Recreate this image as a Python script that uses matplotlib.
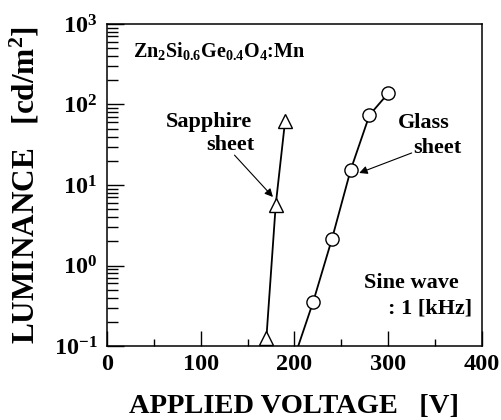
import numpy as np
import matplotlib
matplotlib.use("Agg")
import matplotlib.pyplot as plt
import matplotlib.ticker as ticker

plt.rcParams['font.family'] = ['Liberation Serif', 'DejaVu Serif']
plt.rcParams['font.weight'] = 'bold'
plt.rcParams['mathtext.fontset'] = 'custom'
plt.rcParams['mathtext.rm'] = 'Liberation Serif:bold'
plt.rcParams['mathtext.it'] = 'Liberation Serif:bold'
plt.rcParams['mathtext.bf'] = 'Liberation Serif:bold'
plt.rcParams['mathtext.default'] = 'rm'

# sapphire sheet (triangles)
sapphire_v = [170, 180, 190]
sapphire_lum = [0.125, 5.7, 63]

# glass sheet (circles); first entry is where the line leaves the axis
glass_v = [204, 220, 240, 260, 280, 300]
glass_lum = [0.1, 0.356, 2.15, 15.5, 74, 138]

xticks = [0, 100, 200, 300, 400]

W, H, DPI = 502, 420, 100
fig = plt.figure(figsize=(W / DPI, H / DPI), dpi=DPI)
ax = fig.add_axes([107 / W, 1 - 346 / H, 375 / W, 322 / H])

ax.plot(sapphire_v, sapphire_lum, color='k', lw=1.3, marker='^', ms=10.5,
        mfc='w', mec='k', mew=1.0, clip_on=False, zorder=3)
ax.plot(glass_v, glass_lum, color='k', lw=1.3, zorder=2)
ax.plot(glass_v[1:], glass_lum[1:], ls='none', marker='o', ms=9.5,
        mfc='w', mec='k', mew=1.0, clip_on=False, zorder=3)

ax.set_yscale('log')
ax.set_xlim(0, 400)
ax.set_ylim(0.1, 1000)
ax.set_xticks(xticks)
ax.xaxis.set_minor_locator(ticker.MultipleLocator(50))
ax.yaxis.set_major_locator(ticker.LogLocator(base=10, numticks=10))
ax.yaxis.set_minor_locator(ticker.LogLocator(base=10, subs=np.arange(2, 10), numticks=10))
ax.yaxis.set_minor_formatter(ticker.NullFormatter())

ax.tick_params(axis='both', which='both', direction='in', top=False, right=False)
ax.tick_params(axis='x', which='major', length=11, width=1.0, labelsize=17.5, pad=6)
ax.tick_params(axis='x', which='minor', length=5, width=1.0)
ax.tick_params(axis='y', which='major', length=12, width=1.0, labelsize=17.5, pad=7)
ax.tick_params(axis='y', which='minor', length=8, width=1.0)
for s in ax.spines.values():
    s.set_linewidth(1.1)

ax.set_xlabel('APPLIED VOLTAGE   [V]', fontsize=20.5, fontweight='bold')
ax.set_ylabel('LUMINANCE   [cd/m$^2$]', fontsize=22.5, fontweight='bold')
ax.xaxis.set_label_coords(0.5, -0.148)
ax.yaxis.set_label_coords(-0.175, 0.5)

ax.text(27.7, 390, r'$\mathrm{Zn_2Si_{0.6}Ge_{0.4}O_4}$:Mn', fontsize=14.5,
        fontweight='bold', ha='left', va='baseline')

ax.text(109, 52, 'Sapphire', fontsize=16, fontweight='bold', ha='center', va='baseline')
ax.text(132, 27, 'sheet', fontsize=16, fontweight='bold', ha='center', va='baseline')
ax.annotate('', xy=(177, 7.1), xytext=(136, 23.5),
            arrowprops=dict(arrowstyle='-|>', color='k', lw=0.8,
                            mutation_scale=12, shrinkA=0, shrinkB=0))

ax.text(337.6, 51, 'Glass', fontsize=16, fontweight='bold', ha='center', va='baseline')
ax.text(352.5, 25, 'sheet', fontsize=16, fontweight='bold', ha='center', va='baseline')
ax.annotate('', xy=(269, 14.1), xytext=(325, 25),
            arrowprops=dict(arrowstyle='-|>', color='k', lw=0.8,
                            mutation_scale=12, shrinkA=0, shrinkB=0))

ax.text(324.8, 0.525, 'Sine wave', fontsize=16, fontweight='bold', ha='center', va='baseline')
ax.text(344.5, 0.25, ': 1 [kHz]', fontsize=16, fontweight='bold', ha='center', va='baseline')

fig.savefig('out.png', dpi=DPI)
